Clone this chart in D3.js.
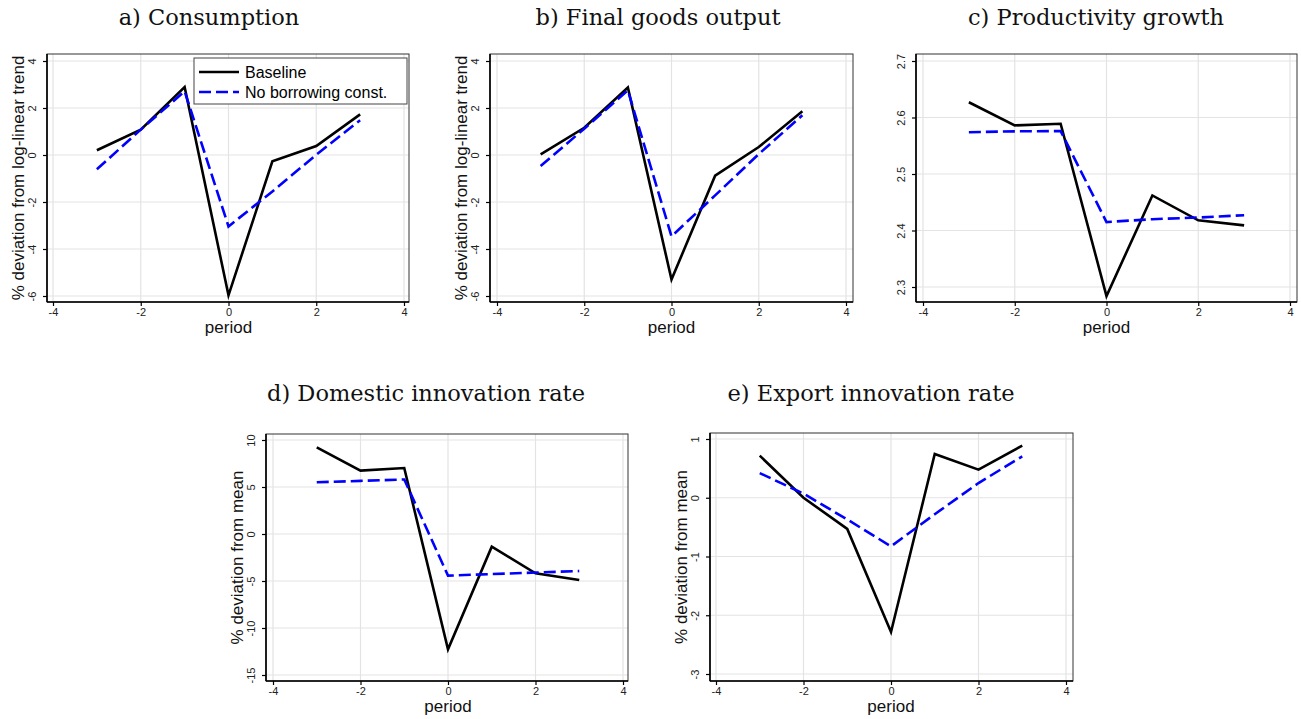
<!DOCTYPE html>
<html>
<head>
<meta charset="utf-8">
<script src="https://cdn.jsdelivr.net/npm/d3@7"></script>
<style>
  html, body { margin: 0; padding: 0; background: #fff; }
  svg { display: block; }
</style>
</head>
<body>
<svg id="chart" width="1301" height="719"></svg>
<script>
// ---------- DATA ----------
const periods = [-3, -2, -1, 0, 1, 2, 3];
const seriesNames = ["Baseline", "No borrowing const."];

const consumptionBaseline = [0.20, 1.08, 2.89, -5.97, -0.27, 0.38, 1.73];
const consumptionNoBorrow = [-0.61, 1.08, 2.71, -3.04, -1.55, 0.01, 1.48];

const outputBaseline = [0.03, 1.16, 2.87, -5.30, -0.88, 0.34, 1.86];
const outputNoBorrow = [-0.47, 1.12, 2.75, -3.46, -1.72, 0.04, 1.69];

const productivityBaseline = [2.627, 2.586, 2.589, 2.284, 2.462, 2.418, 2.409];
const productivityNoBorrow = [2.574, 2.5755, 2.576, 2.415, 2.420, 2.423, 2.427];

const domesticBaseline = [9.22, 6.74, 7.02, -12.27, -1.35, -4.18, -4.89];
const domesticNoBorrow = [5.50, 5.65, 5.80, -4.43, -4.26, -4.10, -3.94];

const exportBaseline = [0.716, 0.0, -0.53, -2.285, 0.745, 0.478, 0.887];
const exportNoBorrow = [0.42, 0.07, -0.37, -0.827, -0.28, 0.25, 0.705];

const xTicks = [-4, -2, 0, 2, 4];
const yTicksAB = [-6, -4, -2, 0, 2, 4];
const yTicksC = [2.3, 2.4, 2.5, 2.6, 2.7];
const yTicksD = [-15, -10, -5, 0, 5, 10];
const yTicksE = [-3, -2, -1, 0, 1];

const titles = ["a) Consumption", "b) Final goods output", "c) Productivity growth",
                "d) Domestic innovation rate", "e) Export innovation rate"];
const xLabel = "period";
const yLabelTrend = "% deviation from log-linear trend";
const yLabelMean = "% deviation from mean";

// ---------- LAYOUT ----------
const svg = d3.select("#chart");
const panels = [
  { title: titles[0], titleX: 209, titleY: 25, frame: [47, 409, 54, 302], xr: [53, 404], yr: [296, 61],
    yd: [-6, 4], yt: yTicksAB, ylab: yLabelTrend, a: consumptionBaseline, b: consumptionNoBorrow, legend: true },
  { title: titles[1], titleX: 658, titleY: 25, frame: [490, 853, 54, 302], xr: [497, 846], yr: [296, 61],
    yd: [-6, 4], yt: yTicksAB, ylab: yLabelTrend, a: outputBaseline, b: outputNoBorrow },
  { title: titles[2], titleX: 1096, titleY: 25, frame: [916, 1297, 54, 302], xr: [923, 1290], yr: [287, 61],
    yd: [2.3, 2.7], yt: yTicksC, ylab: null, a: productivityBaseline, b: productivityNoBorrow },
  { title: titles[3], titleX: 426, titleY: 401, frame: [266, 628, 434, 681], xr: [273, 623], yr: [675, 440],
    yd: [-15, 10], yt: yTicksD, ylab: yLabelMean, a: domesticBaseline, b: domesticNoBorrow },
  { title: titles[4], titleX: 871, titleY: 401, frame: [710, 1073, 433, 681], xr: [716, 1066], yr: [674, 439],
    yd: [-3, 1], yt: yTicksE, ylab: yLabelMean, a: exportBaseline, b: exportNoBorrow }
];

const serifFont = "'DejaVu Serif', serif";
const sansFont = "Arial, 'Liberation Sans', sans-serif";

panels.forEach(p => {
  const [L, R, T, B] = p.frame;
  const x = d3.scaleLinear().domain([-4, 4]).range(p.xr);
  const y = d3.scaleLinear().domain(p.yd).range(p.yr);
  const g = svg.append("g");

  // title
  g.append("text").attr("x", p.titleX).attr("y", p.titleY)
    .attr("text-anchor", "middle").attr("font-family", serifFont)
    .attr("font-size", 22.5).attr("fill", "#111").text(p.title);

  // plot background
  g.append("rect").attr("x", L).attr("y", T).attr("width", R - L).attr("height", B - T)
    .attr("fill", "#fff");

  // grid
  g.selectAll(".gx").data(xTicks).join("line")
    .attr("x1", d => x(d)).attr("x2", d => x(d)).attr("y1", T).attr("y2", B)
    .attr("stroke", "#e3e3e3").attr("stroke-width", 1.2);
  g.selectAll(".gy").data(p.yt).join("line")
    .attr("x1", L).attr("x2", R).attr("y1", d => y(d)).attr("y2", d => y(d))
    .attr("stroke", "#e3e3e3").attr("stroke-width", 1.2);

  // frame
  g.append("rect").attr("x", L).attr("y", T).attr("width", R - L).attr("height", B - T)
    .attr("fill", "none").attr("stroke", "#333").attr("stroke-width", 1);

  // axes
  const xAxis = d3.axisBottom(x).tickValues(xTicks).tickSize(4).tickPadding(2).tickFormat(d3.format("d"));
  const gx = g.append("g").attr("transform", `translate(0,${B})`).call(xAxis);
  gx.select(".domain").attr("d", `M${L},0H${R}`).attr("stroke", "#000").attr("stroke-width", 1.6);
  gx.selectAll(".tick line").attr("stroke", "#000").attr("stroke-width", 1.2);
  gx.selectAll(".tick text").attr("font-family", sansFont).attr("font-size", 11).attr("fill", "#222")
    .text(d => d < 0 ? "-" + Math.abs(d) : d);

  const yAxis = d3.axisLeft(y).tickValues(p.yt).tickSize(4).tickPadding(3);
  const gy = g.append("g").attr("transform", `translate(${L},0)`).call(yAxis);
  gy.select(".domain").attr("d", `M0,${T}V${B}`).attr("stroke", "#000").attr("stroke-width", 1.6);
  gy.selectAll(".tick line").attr("stroke", "#000").attr("stroke-width", 1.2);
  gy.selectAll(".tick text")
    .attr("font-family", sansFont).attr("font-size", 11).attr("fill", "#222")
    .attr("x", null).attr("dy", null)
    .attr("transform", "translate(-11,0) rotate(-90)")
    .attr("text-anchor", "middle")
    .text(d => (d < 0 ? "-" : "") + d3.format("")(Math.abs(d)));

  // axis titles
  g.append("text").attr("x", (p.xr[0] + p.xr[1]) / 2).attr("y", B + 31)
    .attr("text-anchor", "middle").attr("font-family", sansFont).attr("font-size", 17)
    .attr("fill", "#111").text(xLabel);
  if (p.ylab) {
    g.append("text")
      .attr("transform", `translate(${L - 23},${(T + B) / 2}) rotate(-90)`)
      .attr("text-anchor", "middle").attr("font-family", sansFont).attr("font-size", 17)
      .attr("fill", "#111").text(p.ylab);
  }

  // lines
  const line = d3.line().x((d, i) => x(periods[i])).y(d => y(d));
  g.append("path").datum(p.a).attr("d", line).attr("fill", "none")
    .attr("stroke", "#000").attr("stroke-width", 2.6).attr("stroke-linejoin", "miter");
  g.append("path").datum(p.b).attr("d", line).attr("fill", "none")
    .attr("stroke", "#0000ff").attr("stroke-width", 2.6).attr("stroke-dasharray", "12,5");

  // legend
  if (p.legend) {
    const lg = g.append("g");
    lg.append("rect").attr("x", 194).attr("y", 58).attr("width", 213).attr("height", 46)
      .attr("fill", "#fff").attr("stroke", "#444").attr("stroke-width", 1);
    const styles = [{ c: "#000", d: null }, { c: "#0000ff", d: "12,5" }];
    seriesNames.forEach((name, i) => {
      const yy = 72 + i * 20;
      lg.append("line").attr("x1", 199).attr("x2", 239).attr("y1", yy).attr("y2", yy)
        .attr("stroke", styles[i].c).attr("stroke-width", 2.6)
        .attr("stroke-dasharray", styles[i].d);
      lg.append("text").attr("x", 245).attr("y", yy).attr("dy", "0.35em")
        .attr("font-family", sansFont).attr("font-size", 16).attr("fill", "#000").text(name);
    });
  }
});
</script>
</body>
</html>
